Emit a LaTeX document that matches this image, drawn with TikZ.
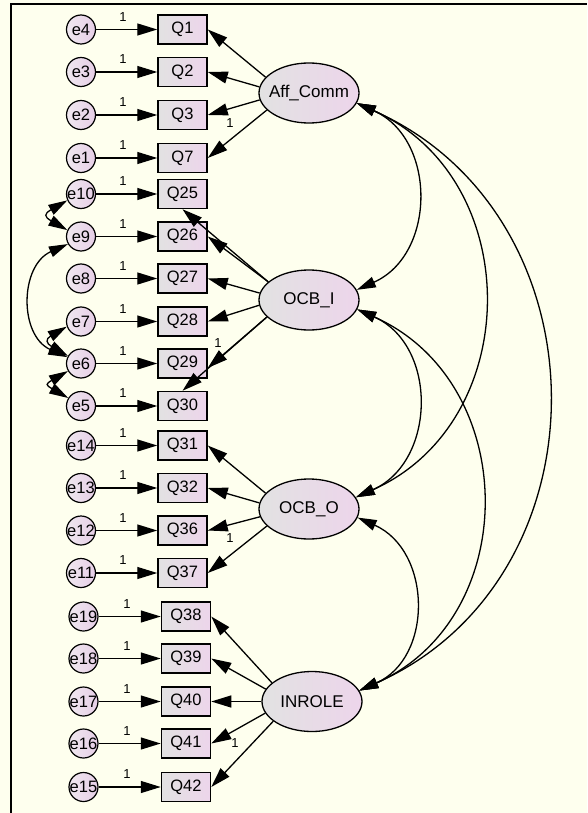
\documentclass[tikz,border=0pt]{standalone}
\usepackage{fontspec}
\setmainfont{Liberation Sans}
\usetikzlibrary{arrows.meta,shapes.geometric}
\definecolor{bg}{RGB}{254,255,238}
\definecolor{boxL}{RGB}{226,226,226}
\definecolor{boxR}{RGB}{237,213,235}
\definecolor{cirL}{RGB}{240,232,240}
\definecolor{cirR}{RGB}{230,206,230}
\begin{document}
\begin{tikzpicture}[x=1pt,y=1pt,
 obs/.style={draw=black, line width=1.5pt, left color=boxL, right color=boxR, minimum width=49pt, minimum height=29pt, inner sep=0pt, font=\fontsize{16.5}{16.5}\selectfont},
 err/.style={circle, draw=black, line width=1.2pt, left color=cirL, right color=cirR, minimum size=29pt, inner sep=0pt, font=\fontsize{16.5}{16.5}\selectfont},
 lat/.style={ellipse, draw=black, line width=1.3pt, left color=boxL, right color=boxR, minimum width=100pt, minimum height=60pt, inner sep=0pt, font=\fontsize{17}{17}\selectfont},
 tip/.style={-{Triangle[length=20pt,width=12pt]}, line width=1.3pt},
 cov/.style={{Triangle[length=19pt,width=11pt]}-{Triangle[length=19pt,width=11pt]}, line width=1.3pt},
 one/.style={font=\fontsize{13}{13}\selectfont, inner sep=0pt}
]
\fill[bg] (0,0) rectangle (587,-813);
\useasboundingbox (0,0) rectangle (587,-813);
\draw[line width=2pt] (11,-813) -- (11,-4) -- (587,-4);

% observed variables and errors
\foreach \q/\y/\e in {Q1/29.5/e4, Q2/72/e3, Q3/115/e2, Q7/158/e1,
  Q25/194/e10, Q26/236.5/e9, Q27/278.5/e8, Q28/321.5/e7, Q29/363.5/e6, Q30/406/e5,
  Q31/445.5/e14, Q32/488/e13, Q36/530.5/e12, Q37/573/e11}{
  \node[obs] (\q) at (182.5,-\y) {\q};
  \node[err] (\e) at (81,-\y) {\makebox[0pt]{\e}};
  \draw[tip] (\e) -- (\q);
  \node[one] (l\e) at (123,-\y+12.5) {1};
}
\foreach \q/\y/\e in {Q38/616.5/e19, Q39/658.5/e18, Q40/701.5/e17, Q41/743.5/e16, Q42/787/e15}{
  \node[obs] (\q) at (186,-\y) {\q};
  \node[err] (\e) at (83.5,-\y) {\makebox[0pt]{\e}};
  \draw[tip] (\e) -- (\q);
  \node[one] (l\e) at (127,-\y+12.5) {1};
}

% latent variables
\node[lat] (Aff) at (309,-93) {\makebox[0pt]{Aff\_Comm}};
\node[lat] (OI) at (309,-300) {\makebox[0pt]{OCB\_I}};
\node[lat] (OO) at (309,-509) {\makebox[0pt]{OCB\_O}};
\node[lat] (IN) at (312,-701.5) {\makebox[0pt]{INROLE}};

% loadings
\draw[tip] (Aff.160) -- (Q1.east);
\draw[tip] (Aff.173) -- (Q2.east);
\draw[tip] (Aff.188) -- (Q3.east);
\draw[tip] (Aff.202) -- (Q7.east);
\draw[tip] (OI.156) -- (Q25.south);
\draw[tip] (OI.156) -- (Q26.east);
\draw[tip] (OI.172) -- (Q27.east);
\draw[tip] (OI.186) -- (Q28.east);
\draw[tip] (OI.202) -- (Q29.-10);
\draw[tip] (OI.202) -- (Q30.north);
\draw[tip] (OO.160) -- (Q31.east);
\draw[tip] (OO.173) -- (Q32.east);
\draw[tip] (OO.189) -- (Q36.east);
\draw[tip] (OO.202) -- (Q37.east);
\draw[tip] (IN.155) -- (Q38.east);
\draw[tip] (IN.165) -- (Q39.east);
\draw[tip] (IN.180) -- (Q40.east);
\draw[tip] (IN.194) -- (Q41.east);
\draw[tip] (IN.207) -- (Q42.east);

\node[one] (lAff) at (230,-123) {1};
\node[one] (lOI) at (218,-343) {1};
\node[one] (lOO) at (230,-538) {1};
\node[one] (lIN) at (235,-743) {1};

% covariances between latent variables
\draw[cov] (Aff.-12) to[out=-24, in=24, looseness=1.2] (OI.12);
\draw[cov] (Aff.-12) to[out=-24, in=24, looseness=1.2] (OO.14);
\draw[cov] (Aff.-12) to[out=-24, in=24, looseness=1.2] (IN.13);
\draw[cov] (OI.-11) to[out=-24, in=24, looseness=1.2] (OO.14);
\draw[cov] (OI.-11) to[out=-24, in=24, looseness=1.2] (IN.13);
\draw[cov] (OO.-10) to[out=-24, in=24, looseness=1.2] (IN.13);

% covariances between errors
\draw[cov] (e10.205) .. controls +(210:27) and +(150:27) .. (e9.155);
\draw[cov] (e9.210) .. controls +(204:53) and +(156:53) .. (e6.155);
\draw[cov] (e7.200) .. controls +(210:25) and +(150:25) .. (e6.150);
\draw[cov] (e6.210) .. controls +(210:26) and +(150:26) .. (e5.148);
\end{tikzpicture}
\end{document}
